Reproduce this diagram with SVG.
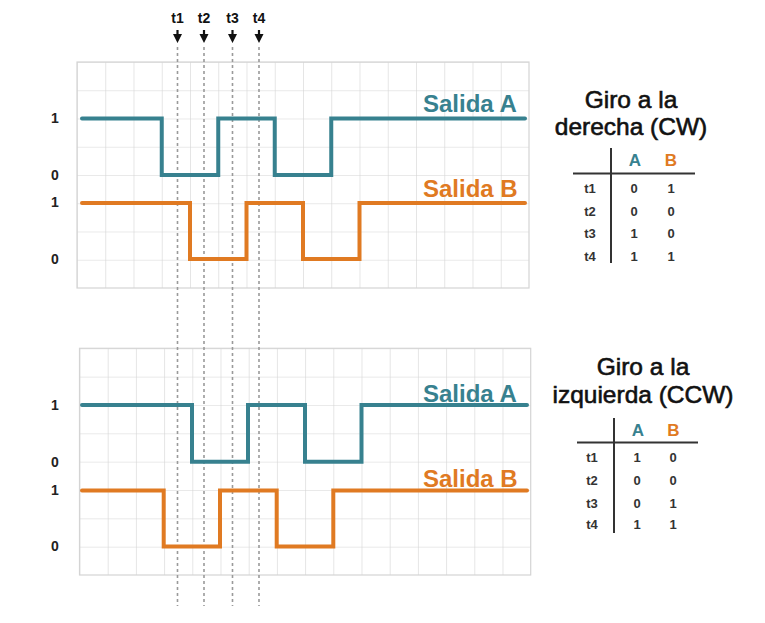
<svg xmlns="http://www.w3.org/2000/svg" width="765" height="623" viewBox="0 0 765 623">
<defs>
<style>
.grid{stroke:#d4d4d4;stroke-width:1.2;fill:none}
.sigA{stroke:#37818f;stroke-width:4;fill:none;stroke-linejoin:miter;stroke-linecap:round}
.sigB{stroke:#e07a22;stroke-width:4;fill:none;stroke-linejoin:miter;stroke-linecap:round}
.dot{stroke:#9a9a9a;stroke-width:1.6;stroke-dasharray:3 3;fill:none}
.lvl{font-family:"Liberation Sans",Arial,sans-serif;font-weight:bold;font-size:14px;fill:#222}
.tlab{font-family:"Liberation Sans",Arial,sans-serif;font-weight:bold;font-size:14px;fill:#111;text-anchor:middle}
.sal{font-family:"Liberation Sans",Arial,sans-serif;font-weight:bold;font-size:24px}
.title{font-family:"Liberation Sans",Arial,sans-serif;font-size:24.5px;fill:#111;stroke:#111;stroke-width:0.6;text-anchor:middle}
.th{font-family:"Liberation Sans",Arial,sans-serif;font-weight:bold;font-size:17px;text-anchor:middle}
.td{font-family:"Liberation Sans",Arial,sans-serif;font-weight:bold;font-size:13px;fill:#333;text-anchor:middle}
.tl{stroke:#333;stroke-width:2;fill:none}
.ah{fill:#111}
</style>
<pattern id="g1" x="77" y="62" width="28.25" height="28.25" patternUnits="userSpaceOnUse">
<path d="M0,0 V28.25 M0,0 H28.25" class="grid"/>
</pattern>
<pattern id="g2" x="79.5" y="348.3" width="28.2" height="28.34" patternUnits="userSpaceOnUse">
<path d="M0,0 V28.34 M0,0 H28.2" class="grid"/>
</pattern>
</defs>
<rect width="765" height="623" fill="#ffffff"/>

<g id="grid-top">
<rect x="77" y="62" width="452" height="226" fill="url(#g1)"/>
<rect x="77" y="62" width="452" height="226" class="grid"/>
</g>
<g id="grid-bottom">
<rect x="79.5" y="348.3" width="451.2" height="226.7" fill="url(#g2)"/>
<rect x="79.5" y="348.3" width="451.2" height="226.7" class="grid"/>
</g>

<g id="connectors">
<path class="dot" d="M177.5,47 V606 M204,47 V606 M232.5,47 V606 M259,47 V606"/>
<path stroke="#111" stroke-width="2.2" fill="none" d="M177.5,30 V36 M204,30 V36 M232.5,30 V36 M259,30 V36"/>
<path class="ah" d="M173,34 H182 L177.5,43 Z M199.5,34 H208.5 L204,43 Z M228,34 H237 L232.5,43 Z M254.5,34 H263.5 L259,43 Z"/>
</g>

<g id="time-labels">
<text class="tlab" x="177.5" y="23">t1</text>
<text class="tlab" x="204" y="23">t2</text>
<text class="tlab" x="232.5" y="23">t3</text>
<text class="tlab" x="259" y="23">t4</text>
</g>

<g id="cw-signals">
<text class="lvl" x="51" y="123">1</text>
<text class="lvl" x="51" y="180">0</text>
<text class="lvl" x="51" y="207">1</text>
<text class="lvl" x="51" y="264">0</text>
<path class="sigA" d="M82,118.5 H161.75 V175 H218.25 V118.5 H274.75 V175 H331.25 V118.5 H525"/>
<path class="sigB" d="M82,203 H190 V259 H246.5 V203 H303 V259 H359.5 V203 H525"/>
<text class="sal" x="423" y="111.5" fill="#37818f">Salida A</text>
<text class="sal" x="423" y="196.5" fill="#e07a22">Salida B</text>
</g>

<g id="ccw-signals">
<text class="lvl" x="51" y="410">1</text>
<text class="lvl" x="51" y="467">0</text>
<text class="lvl" x="51" y="495">1</text>
<text class="lvl" x="51" y="551">0</text>
<path class="sigA" d="M82,405 H192 V461.7 H248 V405 H305 V461.7 H361.5 V405 H527"/>
<path class="sigB" d="M82,490.5 H163.7 V546.5 H220 V490.5 H276.7 V546.5 H333.3 V490.5 H527"/>
<text class="sal" x="423" y="401.5" fill="#37818f">Salida A</text>
<text class="sal" x="423" y="486.5" fill="#e07a22">Salida B</text>
</g>

<g id="cw-table">
<text class="title" x="631" y="108">Giro a la</text>
<text class="title" x="631" y="135">derecha (CW)</text>
<path class="tl" d="M611,148 V263 M573,173.5 H695"/>
<text class="th" x="635" y="166" fill="#37818f">A</text>
<text class="th" x="671" y="166" fill="#e07a22">B</text>
<text class="td" x="590" y="193">t1</text><text class="td" x="634" y="193">0</text><text class="td" x="671" y="193">1</text>
<text class="td" x="590" y="215.5">t2</text><text class="td" x="634" y="215.5">0</text><text class="td" x="671" y="215.5">0</text>
<text class="td" x="590" y="238">t3</text><text class="td" x="634" y="238">1</text><text class="td" x="671" y="238">0</text>
<text class="td" x="590" y="260.5">t4</text><text class="td" x="634" y="260.5">1</text><text class="td" x="671" y="260.5">1</text>
</g>

<g id="ccw-table">
<text class="title" x="643" y="375">Giro a la</text>
<text class="title" x="643" y="403">izquierda (CCW)</text>
<path class="tl" d="M614,418 V533 M577,442.5 H698"/>
<text class="th" x="638" y="436" fill="#37818f">A</text>
<text class="th" x="673.5" y="436" fill="#e07a22">B</text>
<text class="td" x="592" y="462">t1</text><text class="td" x="637" y="462">1</text><text class="td" x="673" y="462">0</text>
<text class="td" x="592" y="484.5">t2</text><text class="td" x="637" y="484.5">0</text><text class="td" x="673" y="484.5">0</text>
<text class="td" x="592" y="507.5">t3</text><text class="td" x="637" y="507.5">0</text><text class="td" x="673" y="507.5">1</text>
<text class="td" x="592" y="529">t4</text><text class="td" x="637" y="529">1</text><text class="td" x="673" y="529">1</text>
</g>
</svg>
